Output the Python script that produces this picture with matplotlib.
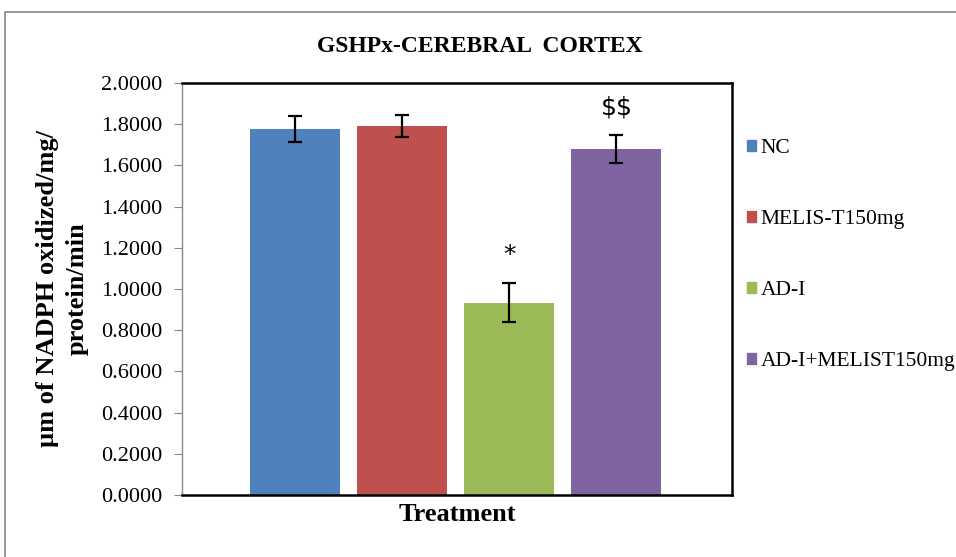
import matplotlib.pyplot as plt
from matplotlib.patches import Rectangle

groups = ['NC', 'MELIS-T150mg', 'AD-I', 'AD-I+MELIST150mg']
means = [1.777, 1.791, 0.934, 1.680]
errors = [0.062, 0.053, 0.096, 0.068]
marks = ['', '', '*', '$$']
colors = ['#4F81BD', '#C0504D', '#9BBB59', '#8064A2']
yticks = [0.0, 0.2, 0.4, 0.6, 0.8, 1.0, 1.2, 1.4, 1.6, 1.8, 2.0]

plt.rcParams['font.family'] = ['Liberation Serif', 'DejaVu Serif']

fig = plt.figure(figsize=(9.56, 5.57), dpi=100)
# outer chart frame
fig.patches.append(Rectangle((5 / 956, -0.01), 1.0, 1 - 12 / 557 + 0.01,
                             transform=fig.transFigure, fill=False,
                             edgecolor='#888888', linewidth=1.2))

ax = fig.add_axes([182 / 956, 1 - 495 / 557, 550 / 956, 412 / 557])

pos = list(range(len(groups)))
ax.bar(pos, means, width=0.84, color=colors)
ax.errorbar(pos, means, yerr=errors, fmt='none', ecolor='black',
            elinewidth=1.6, capsize=5, capthick=1.6)

for p, m, e, s in zip(pos, means, errors, marks):
    if s:
        ax.text(p, m + e + 0.075, s, ha='center', va='bottom',
                fontsize=18, family='DejaVu Sans', parse_math=False)

ax.set_xlim(-1.06, 4.08)
ax.set_ylim(0, 2.0)
ax.set_yticks(yticks)
ax.set_yticklabels(['%.4f' % t for t in yticks], fontsize=16)
ax.set_xticks([])
ax.tick_params(axis='y', direction='out', length=6, color='#888888', pad=8)

for side in ['top', 'right', 'bottom']:
    ax.spines[side].set_linewidth(1.8)
    ax.spines[side].set_color('black')
ax.spines['left'].set_color('#888888')
ax.spines['left'].set_linewidth(1.0)

ax.set_xlabel('Treatment', fontsize=19, fontweight='bold', labelpad=6)
ax.set_ylabel('\u00b5m of NADPH oxidized/mg/\nprotein/min', fontsize=19,
              fontweight='bold', labelpad=9, linespacing=1.4)
fig.text(480 / 956, 1 - 47 / 557, 'GSHPx-CEREBRAL  CORTEX', ha='center',
         va='center', fontsize=17, fontweight='bold')

handles = [Rectangle((0, 0), 1, 1, color=c) for c in colors]
ax.legend(handles, groups, loc='upper left',
          bbox_to_anchor=(747 / 956, 1 - 139 / 557),
          bbox_transform=fig.transFigure, frameon=False, fontsize=15.5,
          handlelength=0.42, handleheight=0.42, handletextpad=0.22,
          labelspacing=2.42, borderaxespad=0, borderpad=0)

fig.savefig('out.png', dpi=100)
